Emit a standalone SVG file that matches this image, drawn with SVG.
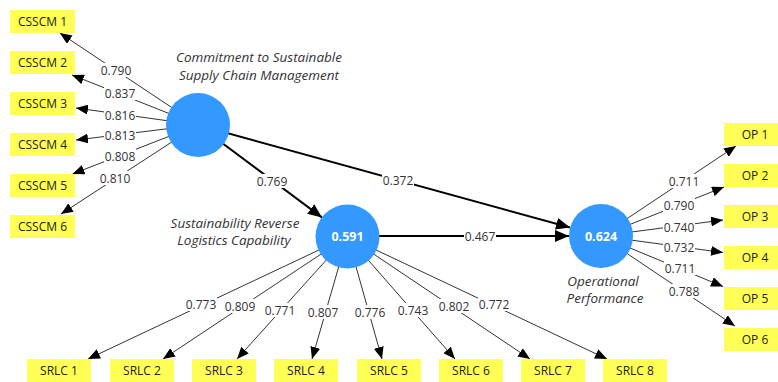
<svg xmlns="http://www.w3.org/2000/svg" width="778" height="382" viewBox="0 0 778 382">
<style>
.box{fill:#FFFF55}
.bt{font-family:"Open Sans","Liberation Sans",sans-serif;font-size:12px;fill:#222;text-anchor:middle}
.lv{font-family:"Open Sans","Liberation Sans",sans-serif;font-size:12px;fill:#333;text-anchor:middle}
.lbg{fill:#fff}
.ln{stroke:#333;stroke-width:1;fill:none}
.sp{stroke:#000;stroke-width:2;fill:none}
.lvc{fill:#3399FF}
.ct{font-family:"Open Sans","Liberation Sans",sans-serif;font-size:12.5px;font-weight:bold;fill:#fff;text-anchor:middle}
.it{font-family:"Open Sans","Liberation Sans",sans-serif;font-size:13.5px;font-style:italic;fill:#333;text-anchor:middle}
</style>
<defs>
<marker id="a" markerUnits="userSpaceOnUse" markerWidth="12" markerHeight="10" refX="12" refY="5" orient="auto"><path d="M0,0 L12,5 L0,10 z" fill="#000"/></marker>
<marker id="b" markerUnits="userSpaceOnUse" markerWidth="14" markerHeight="12" refX="14" refY="6" orient="auto"><path d="M0,0 L14,6 L0,12 z" fill="#000"/></marker>
</defs>
<g id="connectors">
<line class="ln" x1="198" y1="125" x2="59.8" y2="33" marker-end="url(#a)"/>
<line class="ln" x1="198" y1="125" x2="72" y2="75" marker-end="url(#a)"/>
<line class="ln" x1="198" y1="125" x2="76" y2="108" marker-end="url(#a)"/>
<line class="ln" x1="198" y1="125" x2="76" y2="140" marker-end="url(#a)"/>
<line class="ln" x1="198" y1="125" x2="72.5" y2="174" marker-end="url(#a)"/>
<line class="ln" x1="198" y1="125" x2="61" y2="214" marker-end="url(#a)"/>
<line class="ln" x1="347.5" y1="236.5" x2="88" y2="359" marker-end="url(#a)"/>
<line class="ln" x1="347.5" y1="236.5" x2="163" y2="359" marker-end="url(#a)"/>
<line class="ln" x1="347.5" y1="236.5" x2="237" y2="359" marker-end="url(#a)"/>
<line class="ln" x1="347.5" y1="236.5" x2="312" y2="359" marker-end="url(#a)"/>
<line class="ln" x1="347.5" y1="236.5" x2="382" y2="359" marker-end="url(#a)"/>
<line class="ln" x1="347.5" y1="236.5" x2="455" y2="359" marker-end="url(#a)"/>
<line class="ln" x1="347.5" y1="236.5" x2="530" y2="359" marker-end="url(#a)"/>
<line class="ln" x1="347.5" y1="236.5" x2="607" y2="359" marker-end="url(#a)"/>
<line class="ln" x1="601" y1="236" x2="736" y2="146" marker-end="url(#a)"/>
<line class="ln" x1="601" y1="236" x2="724" y2="187" marker-end="url(#a)"/>
<line class="ln" x1="601" y1="236" x2="723" y2="220" marker-end="url(#a)"/>
<line class="ln" x1="601" y1="236" x2="723" y2="252.5" marker-end="url(#a)"/>
<line class="ln" x1="601" y1="236" x2="723" y2="286.5" marker-end="url(#a)"/>
<line class="ln" x1="601" y1="236" x2="735" y2="326" marker-end="url(#a)"/>
<line class="sp" x1="198" y1="125" x2="321.9" y2="217.4" marker-end="url(#b)"/>
<line class="sp" x1="198" y1="125" x2="570" y2="227.5" marker-end="url(#b)"/>
<line class="sp" x1="347.5" y1="236" x2="569" y2="236" marker-end="url(#b)"/>
<g>
<rect class="lbg" x="100" y="63" width="32" height="14"/><text class="lv" x="116" y="74.5">0.790</text>
<rect class="lbg" x="104" y="86" width="32" height="14"/><text class="lv" x="120" y="97.5">0.837</text>
<rect class="lbg" x="104" y="108" width="32" height="14"/><text class="lv" x="120" y="119.5">0.816</text>
<rect class="lbg" x="104" y="128" width="32" height="14"/><text class="lv" x="120" y="139.5">0.813</text>
<rect class="lbg" x="104" y="149" width="32" height="14"/><text class="lv" x="120" y="160.5">0.808</text>
<rect class="lbg" x="99" y="171" width="32" height="14"/><text class="lv" x="115" y="182.5">0.810</text>
<rect class="lbg" x="185" y="297" width="32" height="14"/><text class="lv" x="201" y="308.5">0.773</text>
<rect class="lbg" x="224" y="299" width="32" height="14"/><text class="lv" x="240" y="310.5">0.809</text>
<rect class="lbg" x="264" y="303" width="32" height="14"/><text class="lv" x="280" y="314.5">0.771</text>
<rect class="lbg" x="307" y="305" width="32" height="14"/><text class="lv" x="323" y="316.5">0.807</text>
<rect class="lbg" x="354" y="305" width="32" height="14"/><text class="lv" x="370" y="316.5">0.776</text>
<rect class="lbg" x="397" y="303" width="32" height="14"/><text class="lv" x="413" y="314.5">0.743</text>
<rect class="lbg" x="438" y="299" width="32" height="14"/><text class="lv" x="454" y="310.5">0.802</text>
<rect class="lbg" x="478" y="297" width="32" height="14"/><text class="lv" x="494" y="308.5">0.772</text>
<rect class="lbg" x="668" y="174" width="32" height="14"/><text class="lv" x="684" y="185.5">0.711</text>
<rect class="lbg" x="663" y="198" width="32" height="14"/><text class="lv" x="679" y="209.5">0.790</text>
<rect class="lbg" x="663" y="220" width="32" height="14"/><text class="lv" x="679" y="231.5">0.740</text>
<rect class="lbg" x="663" y="240" width="32" height="14"/><text class="lv" x="679" y="251.5">0.732</text>
<rect class="lbg" x="664" y="261" width="32" height="14"/><text class="lv" x="680" y="272.5">0.711</text>
<rect class="lbg" x="668" y="284" width="32" height="14"/><text class="lv" x="684" y="295.5">0.788</text>
<rect class="lbg" x="256" y="174" width="32" height="14"/><text class="lv" x="272" y="185.5">0.769</text>
<rect class="lbg" x="382" y="173" width="32" height="14"/><text class="lv" x="398" y="184.5">0.372</text>
<rect class="lbg" x="464" y="229" width="32" height="14"/><text class="lv" x="480" y="240.5">0.467</text>
</g>
</g>
<g id="CSSCM1"><rect class="box" x="10" y="10" width="65" height="23"/><text class="bt" x="42.5" y="26">CSSCM 1</text></g>
<g id="CSSCM2"><rect class="box" x="10" y="51" width="65" height="23"/><text class="bt" x="42.5" y="67">CSSCM 2</text></g>
<g id="CSSCM3"><rect class="box" x="10" y="92" width="65" height="23"/><text class="bt" x="42.5" y="108">CSSCM 3</text></g>
<g id="CSSCM4"><rect class="box" x="10" y="133" width="65" height="23"/><text class="bt" x="42.5" y="149">CSSCM 4</text></g>
<g id="CSSCM5"><rect class="box" x="10" y="174" width="65" height="23"/><text class="bt" x="42.5" y="190">CSSCM 5</text></g>
<g id="CSSCM6"><rect class="box" x="10" y="215" width="65" height="23"/><text class="bt" x="42.5" y="231">CSSCM 6</text></g>
<g id="SRLC1"><rect class="box" x="27" y="359" width="64" height="23"/><text class="bt" x="59" y="375">SRLC 1</text></g>
<g id="SRLC2"><rect class="box" x="110" y="359" width="64" height="23"/><text class="bt" x="142" y="375">SRLC 2</text></g>
<g id="SRLC3"><rect class="box" x="192" y="359" width="64" height="23"/><text class="bt" x="224" y="375">SRLC 3</text></g>
<g id="SRLC4"><rect class="box" x="274" y="359" width="64" height="23"/><text class="bt" x="306" y="375">SRLC 4</text></g>
<g id="SRLC5"><rect class="box" x="357" y="359" width="64" height="23"/><text class="bt" x="389" y="375">SRLC 5</text></g>
<g id="SRLC6"><rect class="box" x="439" y="359" width="64" height="23"/><text class="bt" x="471" y="375">SRLC 6</text></g>
<g id="SRLC7"><rect class="box" x="521" y="359" width="64" height="23"/><text class="bt" x="553" y="375">SRLC 7</text></g>
<g id="SRLC8"><rect class="box" x="603" y="359" width="64" height="23"/><text class="bt" x="635" y="375">SRLC 8</text></g>
<g id="OP1"><rect class="box" x="724" y="123" width="54" height="23"/><text class="bt" x="755" y="139">OP 1</text></g>
<g id="OP2"><rect class="box" x="724" y="164" width="54" height="23"/><text class="bt" x="755" y="180">OP 2</text></g>
<g id="OP3"><rect class="box" x="724" y="205" width="54" height="23"/><text class="bt" x="755" y="221">OP 3</text></g>
<g id="OP4"><rect class="box" x="724" y="246" width="54" height="23"/><text class="bt" x="755" y="262">OP 4</text></g>
<g id="OP5"><rect class="box" x="724" y="287" width="54" height="23"/><text class="bt" x="755" y="303">OP 5</text></g>
<g id="OP6"><rect class="box" x="724" y="328" width="54" height="23"/><text class="bt" x="755" y="344">OP 6</text></g>
<g id="CSSCM"><circle class="lvc" cx="198" cy="125" r="32"/><text class="it" x="259" y="62">Commitment to Sustainable</text><text class="it" x="259" y="80">Supply Chain Management</text></g>
<g id="SRLC"><circle class="lvc" cx="347.5" cy="236.5" r="32"/><text class="ct" x="347.5" y="241">0.591</text><text class="it" x="235" y="228">Sustainability Reverse</text><text class="it" x="234" y="245">Logistics Capability</text></g>
<g id="OP"><circle class="lvc" cx="601" cy="236" r="32"/><text class="ct" x="601" y="240.5">0.624</text><text class="it" x="603" y="286">Operational</text><text class="it" x="605" y="303">Performance</text></g>
</svg>
